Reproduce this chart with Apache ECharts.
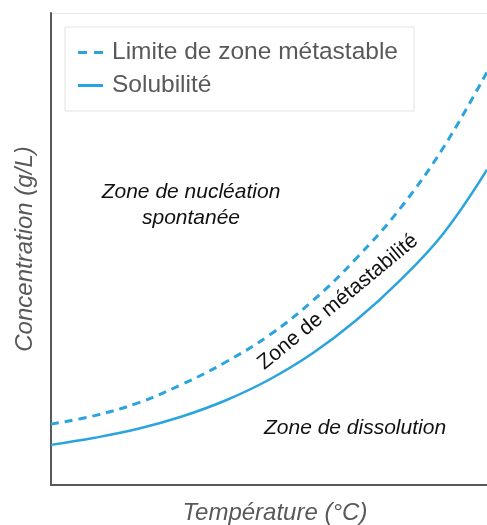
<!DOCTYPE html>
<html><head><meta charset="utf-8">
<script src="https://cdn.jsdelivr.net/npm/echarts@6/dist/echarts.min.js"></script>
<style>html,body{margin:0;padding:0;background:#fff}#c{width:487px;height:525px}</style>
</head><body><div id="c"></div>
<script>
const temperature = [0, 10, 20, 30, 40, 50, 60, 70, 80, 90, 100];
const solubilite = [8.5, 10.0, 11.9, 14.5, 17.9, 22.3, 27.9, 34.9, 43.3, 53.3, 66.8];
const limiteMetastable = [12.9, 14.7, 17.4, 21.3, 26.0, 31.7, 39.0, 48.0, 58.5, 71.5, 87.5];
const seriesNames = ['Limite de zone métastable', 'Solubilité'];
const xName = 'Température (°C)';
const yName = 'Concentration (g/L)';
const zoneLabels = ['Zone de nucléation', 'spontanée', 'Zone de métastabilité', 'Zone de dissolution'];

const lineColor = '#2aa4de';
const chart = echarts.init(document.getElementById('c'));
const font = '"Liberation Sans", Arial, sans-serif';
chart.setOption({
  animation: false,
  grid: { left: 51, right: 0, top: 13, bottom: 40, containLabel: false, outerBoundsMode: 'none' },
  legend: {
    orient: 'vertical', left: 65, top: 27,
    padding: [13, 16, 13, 13],
    borderColor: '#e2e2e2', borderWidth: 1,
    itemWidth: 25, itemHeight: 3, itemGap: 8,
    textStyle: { fontSize: 24.5, color: '#595959', fontFamily: font, lineHeight: 24, padding: [0, 0, 0, 4] },
    data: [
      { name: seriesNames[0], icon: 'path://M0,0h9v3h-9z M16,0h9v3h-9z' },
      { name: seriesNames[1], icon: 'path://M0,0h25v3h-25z' }
    ]
  },
  xAxis: {
    type: 'value', min: 0, max: 100,
    name: xName, nameLocation: 'middle', nameGap: 16,
    nameTextStyle: { fontSize: 24, fontStyle: 'italic', color: '#595959', fontFamily: font, padding: [0, 0, 0, 12] },
    axisLine: { show: true, lineStyle: { color: '#595959', width: 2 } },
    axisTick: { show: false }, axisLabel: { show: false }, splitLine: { show: false }
  },
  yAxis: {
    type: 'value', min: 0, max: 100,
    name: yName, nameLocation: 'middle', nameGap: 14,
    nameTextStyle: { fontSize: 24, fontStyle: 'italic', color: '#595959', fontFamily: font },
    axisLine: { show: true, lineStyle: { color: '#595959', width: 2 } },
    axisTick: { show: false }, axisLabel: { show: false }, splitLine: { show: false }
  },
  series: [
    { name: seriesNames[0], type: 'line', smooth: 0.4, symbol: 'none',
      data: temperature.map((t, i) => [t, limiteMetastable[i]]),
      itemStyle: { color: lineColor },
      lineStyle: { color: lineColor, width: 3, type: [8, 6] } },
    { name: seriesNames[1], type: 'line', smooth: 0.4, symbol: 'none',
      data: temperature.map((t, i) => [t, solubilite[i]]),
      itemStyle: { color: lineColor },
      lineStyle: { color: lineColor, width: 2.5 } }
  ],
  graphic: [
    { type: 'line', shape: { x1: 52, y1: 13.5, x2: 487, y2: 13.5 }, style: { stroke: '#e8e8e8', lineWidth: 1 } },
    { type: 'text', x: 191, y: 192, style: { text: zoneLabels[0], fontSize: 21, fontStyle: 'italic', fontFamily: font, fill: '#111', align: 'center', verticalAlign: 'middle' } },
    { type: 'text', x: 191, y: 218, style: { text: zoneLabels[1], fontSize: 21, fontStyle: 'italic', fontFamily: font, fill: '#111', align: 'center', verticalAlign: 'middle' } },
    { type: 'text', x: 338, y: 302, rotation: 0.69, style: { text: zoneLabels[2], fontSize: 21, fontFamily: font, fill: '#111', align: 'center', verticalAlign: 'middle' } },
    { type: 'text', x: 355, y: 428, style: { text: zoneLabels[3], fontSize: 21, fontStyle: 'italic', fontFamily: font, fill: '#111', align: 'center', verticalAlign: 'middle' } }
  ]
});
</script></body></html>
